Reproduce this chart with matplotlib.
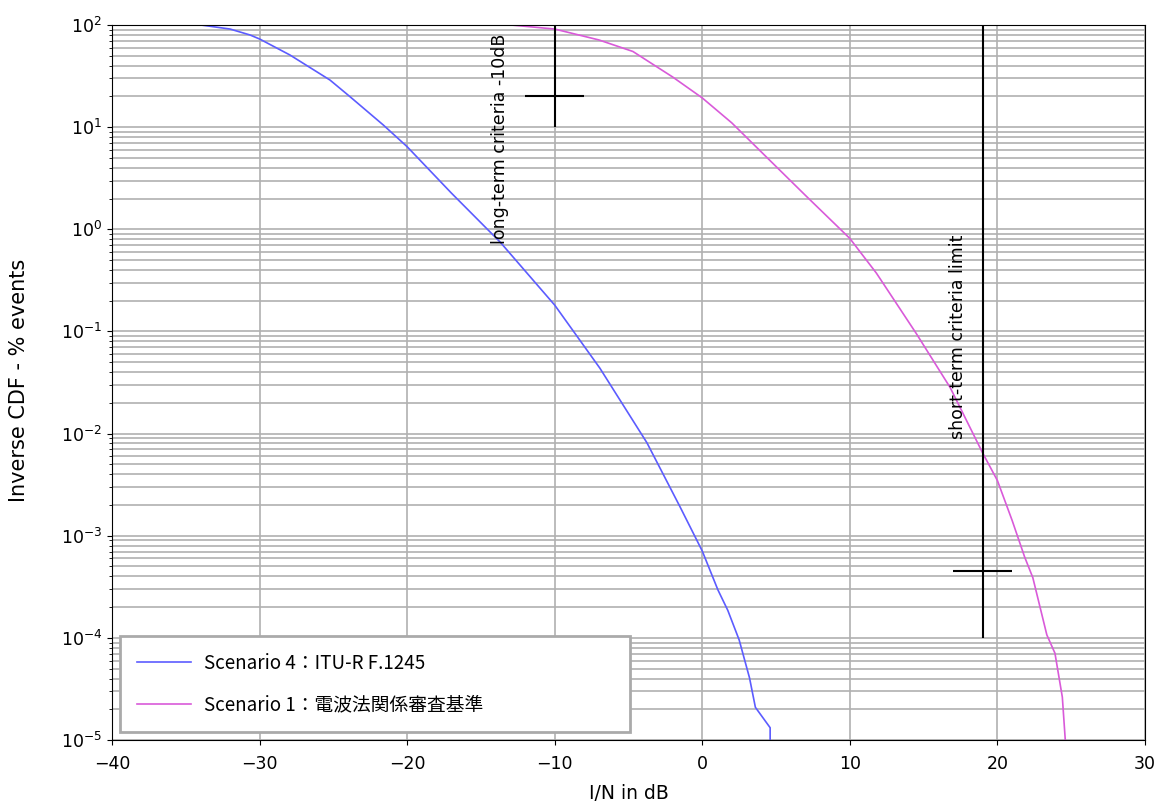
import matplotlib
matplotlib.use("Agg")
import matplotlib.pyplot as plt
from matplotlib.ticker import LogLocator, NullFormatter

# Data
blue_x = [-34.0, -32.0, -30.65, -30.0, -27.94, -25.23, -23.88, -21.62, -20.0, -17.0,
          -13.7, -10.0, -6.94, -3.75, -1.5, 0.0, 1.06, 1.73, 2.5, 3.2, 3.6, 4.6, 4.6]
blue_y = [100, 91.2, 79.8, 72.9, 50.8, 28.9, 19.9, 10.5, 6.43, 2.26,
          0.75, 0.181, 0.0437, 0.00813, 0.00191, 7.08e-4, 2.95e-4, 1.86e-4, 9.55e-5,
          4.07e-5, 2.09e-5, 1.32e-5, 1e-5]

mag_x = [-13.0, -10.0, -7.0, -4.7, -2.0, 0.0, 2.0, 4.4, 7.0, 10.0, 11.8, 14.5,
         16.8, 19.0, 20.0, 21.0, 21.85, 22.4, 23.35, 23.9, 24.4, 24.6]
mag_y = [100, 91.2, 71.3, 55.0, 30.9, 19.3, 11.0, 5.01, 2.14, 0.813, 0.372, 0.0955,
         0.0282, 0.00646, 0.00347, 0.00141, 6.17e-4, 3.89e-4, 1.07e-4, 7.08e-5,
         2.63e-5, 1e-5]

labels = ["Scenario 4：ITU-R F.1245", "Scenario 1：電波法関係審査基準"]

lt_x, lt_ylo, lt_yhi, lt_mark, lt_half = -10, 10, 100, 20, 2
st_x, st_ylo, st_yhi, st_mark, st_half = 19, 1e-4, 100, 4.5e-4, 2

fig = plt.figure(figsize=(11.57, 8.05), dpi=100)
ax = fig.add_axes([0.0968, 0.0807, 0.8928, 0.8883])

ax.plot(blue_x, blue_y, color="#5c5cff", lw=1.2, label=labels[0])
ax.plot(mag_x, mag_y, color="#d95ad9", lw=1.2, label=labels[1])

ax.vlines(lt_x, lt_ylo, lt_yhi, color="black", lw=1.5)
ax.hlines(lt_mark, lt_x - lt_half, lt_x + lt_half, color="black", lw=1.5)
ax.vlines(st_x, st_ylo, st_yhi, color="black", lw=1.5)
ax.hlines(st_mark, st_x - st_half, st_x + st_half, color="black", lw=1.5)

ax.text(-13.7, 0.72, "long-term criteria -10dB", rotation=90, ha="center",
        va="bottom", fontsize=12.5)
ax.text(17.3, 0.0088, "short-term criteria limit", rotation=90, ha="center",
        va="bottom", fontsize=12.5)

ax.set_yscale("log")
ax.set_xlim(-40, 30)
ax.set_ylim(1e-5, 1e2)
ax.set_xticks(range(-40, 31, 10))
ax.yaxis.set_major_locator(LogLocator(base=10, numticks=20))
ax.yaxis.set_minor_locator(LogLocator(base=10, subs=range(2, 10), numticks=100))
ax.yaxis.set_minor_formatter(NullFormatter())
ax.tick_params(labelsize=12.5)
ax.tick_params(axis="x", pad=7)
ax.grid(True, which="major", color="#b0b0b0", lw=1.2)
ax.grid(True, which="minor", axis="y", color="#b0b0b0", lw=1.2)
ax.set_axisbelow(True)

ax.set_xlabel("I/N in dB", fontsize=13.5, va="top")
ax.set_ylabel("Inverse CDF - % events", fontsize=15)
ax.xaxis.set_label_coords(0.5, -0.061)
ax.yaxis.set_label_coords(-0.080, 0.503)

leg = ax.legend(loc="lower left", bbox_to_anchor=(0.0077, 0.011, 0.494, 0.139),
                mode="expand", borderaxespad=0, fancybox=False,
                prop={"family": ["Noto Sans CJK JP", "DejaVu Sans"], "size": 13.5},
                handlelength=2.9, handletextpad=0.7, labelspacing=1.1,
                borderpad=0.9, framealpha=1)
leg.get_frame().set_edgecolor("#aaaaaa")
leg.get_frame().set_linewidth(2)

fig.savefig("out.png", dpi=100)
